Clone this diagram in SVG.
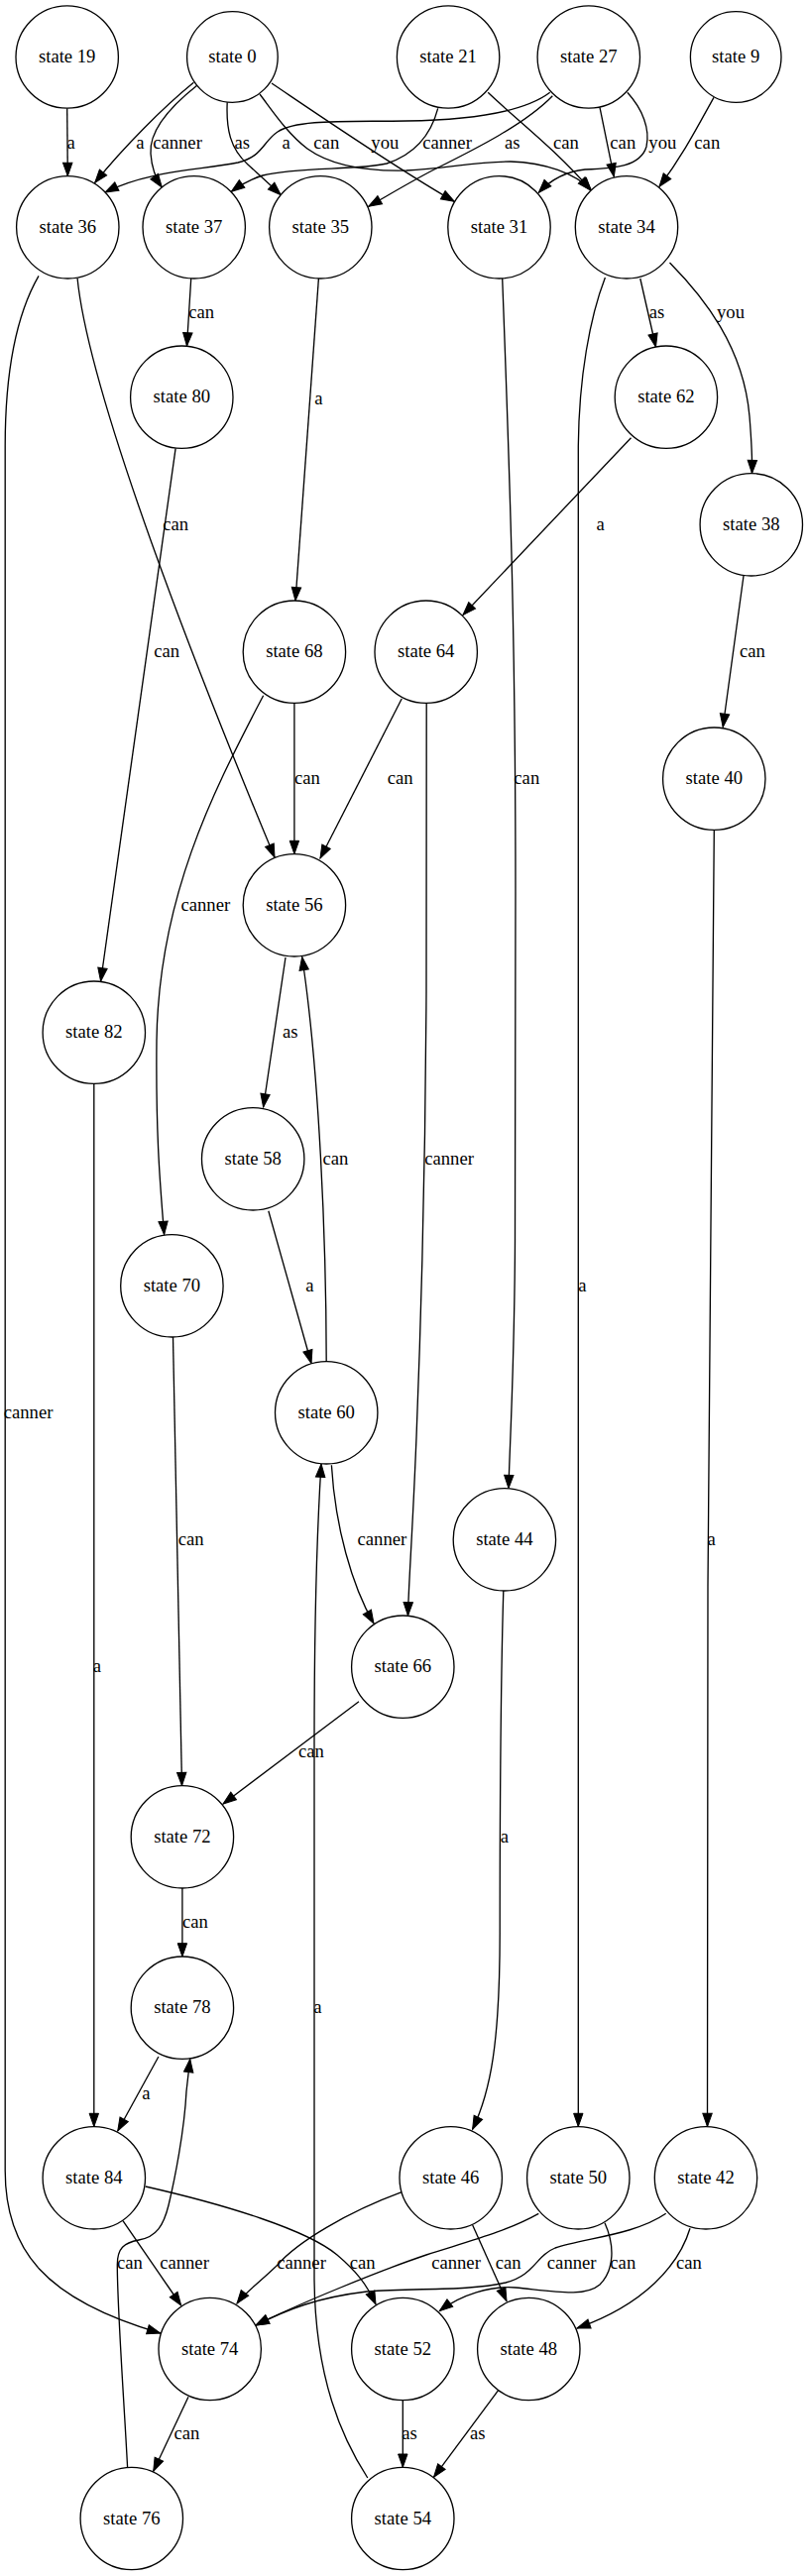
<svg xmlns="http://www.w3.org/2000/svg" width="815" height="2599" viewBox="0 0 815 2599">
<style>
.n circle{fill:#fff;stroke:#000;stroke-width:1.33}
text{font-family:"Liberation Serif","Times New Roman",serif;font-size:18.67px;text-anchor:middle;fill:#000}
.e path{fill:none;stroke:#000;stroke-width:1.33;marker-end:url(#arr)}
</style>
<defs>
<marker id="arr" markerUnits="userSpaceOnUse" markerWidth="14" markerHeight="10" viewBox="0 0 14 10" refX="13.3" refY="4.7" orient="auto" overflow="visible">
<path d="M0,0 L13.3,4.7 L0,9.4 z" fill="#000" stroke="#000" stroke-width="1"/>
</marker>
</defs>
<rect width="815" height="2599" fill="#fff"/>
<g id="edges" class="e">
<path d="M67.7,109.2 L68.3,177.6"/>
<path d="M195.3,83.3 C165,108 125,148 95.7,184.3"/>
<path d="M199,86 C175,105 150,130 152,155 C153,170 157,180 163.3,189"/>
<path d="M229.2,103.3 C228,130 232,150 250,166 C262,177 272,186 283.3,196.7"/>
<path d="M554.7,93.3 C530,112 480,121 410,122 C350,123 300,120 280,133 C265,143 265,158 240,164 C200,172 150,172 106,194"/>
<path d="M262,95 C275,112 290,135 310,150 C335,168 370,173 410,172 C450,170 480,163 515,163 C550,164 580,175 596,191.5"/>
<path d="M274,84 C320,115 400,170 458.3,203.3"/>
<path d="M441.7,109.3 C435,135 420,155 390,165 C360,172 300,168 265,177 C252,181 242,187 233.3,193.3"/>
<path d="M557.3,96.7 C530,125 480,150 440,170 C420,180 395,195 371.7,208.3"/>
<path d="M492.2,93.3 C520,120 560,150 596.5,192.5"/>
<path d="M605,108.3 L619.3,178.3"/>
<path d="M632.8,93.3 C648,110 656,130 652,148 C646,168 620,170 590,171 C570,173 555,182 543.3,194.3"/>
<path d="M720,98.3 C705,125 690,155 665,188.3"/>
<path d="M192.7,281 L188.5,349"/>
<path d="M645.8,281 L661.5,350"/>
<path d="M675.5,265 C710,300 750,350 756,420 C758,445 759,460 758.5,477.6"/>
<path d="M321.4,281 L298,606"/>
<path d="M506.7,281 C515,500 520,650 520,900 L519.5,1250 C519,1380 514,1460 513,1501.6"/>
<path d="M610.4,280 C595,320 584,380 583.3,450 L583.3,2145.6"/>
<path d="M636.5,441.7 L467,620.5"/>
<path d="M78.1,281 C90,400 200,680 277,865"/>
<path d="M39,278.3 C15,320 5.2,380 5.2,450 L5.2,2190 C5.2,2270 45,2320 161.7,2354"/>
<path d="M177.1,452.4 L101.6,990"/>
<path d="M750,581 L729.2,733.5"/>
<path d="M296.9,709.4 L296.9,861.6"/>
<path d="M405.2,705 L323,866"/>
<path d="M430.2,709.4 L430,1000 C429,1200 424,1350 420,1450 C416,1550 412,1600 411.5,1630"/>
<path d="M265.6,701.7 C220,790 160,900 158,1050 C157,1150 162,1200 165.6,1245.6"/>
<path d="M288,966 L265.6,1117"/>
<path d="M329.2,1373.6 C329,1250 322,1080 304.7,965.5"/>
<path d="M270.8,1221.7 L314,1375.5"/>
<path d="M174.5,1349 L183.5,1801.6"/>
<path d="M334.4,1478.3 C338,1540 355,1600 377,1638"/>
<path d="M370.8,2500 C345,2460 318,2400 317,2300 L317,1760 C317,1640 320,1540 324,1477"/>
<path d="M507.8,1605 C505,1700 504.2,1800 504.2,1950 C504.2,2060 495,2110 476.6,2148.3"/>
<path d="M362,1716.7 L225,1820"/>
<path d="M183.9,1905 L183.9,1974"/>
<path d="M159.9,2075 L118.75,2150"/>
<path d="M128.6,2489.5 C125,2420 118.3,2330 118.3,2285 C118.3,2268 125,2263 140,2260 C158,2257 165,2245 170,2225 C176,2200 186,2150 188,2110 L191.7,2077.4"/>
<path d="M94.8,1093.4 L94.8,2145.6"/>
<path d="M124,2240.7 L182.7,2326"/>
<path d="M146.7,2206 C230,2225 310,2250 340,2275 C360,2292 370,2305 379,2325"/>
<path d="M405.2,2211.7 C350,2232 300,2262 280,2285 C265,2300 248,2312 239,2324"/>
<path d="M476.7,2245 L511,2321.7"/>
<path d="M543.3,2233.3 C510,2252 470,2262 430,2275 C380,2292 300,2325 258,2346"/>
<path d="M671.7,2233.3 C640,2255 590,2258 560,2268 C540,2276 540,2295 510,2303 C470,2312 420,2308 370,2312 C320,2318 290,2330 258,2346"/>
<path d="M610,2242.7 C620,2265 620,2290 605,2305 C590,2318 560,2312 520,2308 C495,2306 465,2315 443.3,2331.7"/>
<path d="M696,2248.3 C685,2285 650,2325 582,2349"/>
<path d="M190,2418.3 L154.7,2493.3"/>
<path d="M406.3,2421.7 L406.3,2489.3"/>
<path d="M502.6,2411.7 L437.5,2499.3"/>
<path d="M720.3,837.4 C717,1000 714.5,1300 714,1600 L713.5,2145.6"/>
<text x="71.7" y="149.7">a</text>
<text x="141.3" y="149.7">a</text>
<text x="179" y="149.7">canner</text>
<text x="244.3" y="149.7">as</text>
<text x="288.7" y="149.7">a</text>
<text x="329.3" y="149.7">can</text>
<text x="388.3" y="149.7">you</text>
<text x="451" y="149.7">canner</text>
<text x="516.7" y="149.7">as</text>
<text x="571" y="149.7">can</text>
<text x="628.3" y="149.7">can</text>
<text x="668.3" y="149.7">you</text>
<text x="713.3" y="149.7">can</text>
<text x="203.1" y="321.4">can</text>
<text x="662.5" y="321.4">as</text>
<text x="737" y="321.4">you</text>
<text x="321.4" y="408">a</text>
<text x="177.1" y="535">can</text>
<text x="605.7" y="535">a</text>
<text x="168.2" y="663.4">can</text>
<text x="758.9" y="663.4">can</text>
<text x="309.9" y="791.4">can</text>
<text x="403.6" y="791.4">can</text>
<text x="531.3" y="791.4">can</text>
<text x="207.3" y="919">canner</text>
<text x="292.7" y="1047.4">as</text>
<text x="338.5" y="1175">can</text>
<text x="453.1" y="1175">canner</text>
<text x="312.5" y="1303">a</text>
<text x="587.5" y="1303">a</text>
<text x="28.6" y="1431">canner</text>
<text x="192.7" y="1559">can</text>
<text x="385.4" y="1559">canner</text>
<text x="717.7" y="1559">a</text>
<text x="97.9" y="1687.4">a</text>
<text x="314" y="1773.4">can</text>
<text x="508.9" y="1859">a</text>
<text x="196.9" y="1945">can</text>
<text x="320.3" y="2031.4">a</text>
<text x="147.4" y="2118.4">a</text>
<text x="131" y="2289">can</text>
<text x="186" y="2289">canner</text>
<text x="304" y="2289">canner</text>
<text x="365.7" y="2289">can</text>
<text x="460" y="2289">canner</text>
<text x="512.7" y="2289">can</text>
<text x="576.7" y="2289">canner</text>
<text x="628.3" y="2289">can</text>
<text x="695" y="2289">can</text>
<text x="188.5" y="2461.4">can</text>
<text x="413" y="2461.4">as</text>
<text x="481.8" y="2461.4">as</text>
</g>
<g id="state19" class="n"><circle cx="67.7" cy="57.5" r="51.7"/><text x="67.7" y="63.2">state 19</text></g>
<g id="state0" class="n"><circle cx="234.4" cy="57.5" r="45.8"/><text x="234.4" y="63.2">state 0</text></g>
<g id="state21" class="n"><circle cx="452.1" cy="57.5" r="51.7"/><text x="452.1" y="63.2">state 21</text></g>
<g id="state27" class="n"><circle cx="593.8" cy="57.5" r="51.7"/><text x="593.8" y="63.2">state 27</text></g>
<g id="state9" class="n"><circle cx="742.2" cy="57.5" r="45.8"/><text x="742.2" y="63.2">state 9</text></g>
<g id="state36" class="n"><circle cx="68.3" cy="229.3" r="51.7"/><text x="68.3" y="235">state 36</text></g>
<g id="state37" class="n"><circle cx="195.7" cy="229.3" r="51.7"/><text x="195.7" y="235">state 37</text></g>
<g id="state35" class="n"><circle cx="323.3" cy="229.3" r="51.7"/><text x="323.3" y="235">state 35</text></g>
<g id="state31" class="n"><circle cx="503.5" cy="229.3" r="51.7"/><text x="503.5" y="235">state 31</text></g>
<g id="state34" class="n"><circle cx="632" cy="229.3" r="51.7"/><text x="632" y="235">state 34</text></g>
<g id="state80" class="n"><circle cx="183.3" cy="400.7" r="51.7"/><text x="183.3" y="406.4">state 80</text></g>
<g id="state62" class="n"><circle cx="671.9" cy="400.7" r="51.7"/><text x="671.9" y="406.4">state 62</text></g>
<g id="state38" class="n"><circle cx="757.8" cy="529.3" r="51.7"/><text x="757.8" y="535">state 38</text></g>
<g id="state68" class="n"><circle cx="296.9" cy="657.7" r="51.7"/><text x="296.9" y="663.4">state 68</text></g>
<g id="state64" class="n"><circle cx="429.7" cy="657.7" r="51.7"/><text x="429.7" y="663.4">state 64</text></g>
<g id="state40" class="n"><circle cx="720.3" cy="785.7" r="51.7"/><text x="720.3" y="791.4">state 40</text></g>
<g id="state56" class="n"><circle cx="296.9" cy="913.3" r="51.7"/><text x="296.9" y="919">state 56</text></g>
<g id="state82" class="n"><circle cx="94.8" cy="1041.7" r="51.7"/><text x="94.8" y="1047.4">state 82</text></g>
<g id="state58" class="n"><circle cx="255.2" cy="1169.3" r="51.7"/><text x="255.2" y="1175">state 58</text></g>
<g id="state70" class="n"><circle cx="173.4" cy="1297.3" r="51.7"/><text x="173.4" y="1303">state 70</text></g>
<g id="state60" class="n"><circle cx="329.2" cy="1425.3" r="51.7"/><text x="329.2" y="1431">state 60</text></g>
<g id="state44" class="n"><circle cx="508.9" cy="1553.3" r="51.7"/><text x="508.9" y="1559">state 44</text></g>
<g id="state66" class="n"><circle cx="406.3" cy="1681.7" r="51.7"/><text x="406.3" y="1687.4">state 66</text></g>
<g id="state72" class="n"><circle cx="183.9" cy="1853.3" r="51.7"/><text x="183.9" y="1859">state 72</text></g>
<g id="state78" class="n"><circle cx="183.9" cy="2025.7" r="51.7"/><text x="183.9" y="2031.4">state 78</text></g>
<g id="state84" class="n"><circle cx="94.8" cy="2197.3" r="51.7"/><text x="94.8" y="2203">state 84</text></g>
<g id="state46" class="n"><circle cx="454.7" cy="2197.3" r="51.7"/><text x="454.7" y="2203">state 46</text></g>
<g id="state50" class="n"><circle cx="583.3" cy="2197.3" r="51.7"/><text x="583.3" y="2203">state 50</text></g>
<g id="state42" class="n"><circle cx="712" cy="2197.3" r="51.7"/><text x="712" y="2203">state 42</text></g>
<g id="state74" class="n"><circle cx="211.7" cy="2370" r="51.7"/><text x="211.7" y="2375.7">state 74</text></g>
<g id="state52" class="n"><circle cx="406.3" cy="2370" r="51.7"/><text x="406.3" y="2375.7">state 52</text></g>
<g id="state48" class="n"><circle cx="533.3" cy="2370" r="51.7"/><text x="533.3" y="2375.7">state 48</text></g>
<g id="state76" class="n"><circle cx="132.8" cy="2541" r="51.7"/><text x="132.8" y="2546.7">state 76</text></g>
<g id="state54" class="n"><circle cx="406.3" cy="2541" r="51.7"/><text x="406.3" y="2546.7">state 54</text></g>
</svg>
